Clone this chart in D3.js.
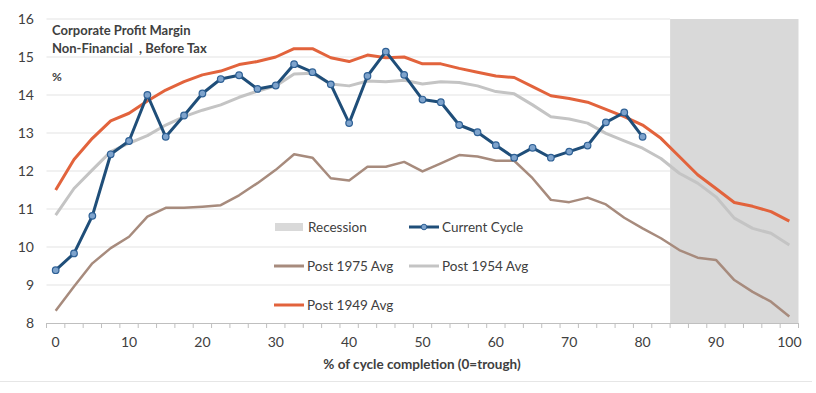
<!DOCTYPE html>
<html>
<head>
<meta charset="utf-8">
<script src="https://cdn.jsdelivr.net/npm/d3@7"></script>
<style>
  body { margin: 0; background: #fff; }
  text { font-family: Lato, "Open Sans", sans-serif; fill: #404040; white-space: pre; }
</style>
</head>
<body>
<div id="chart"></div>
<script>
// % of cycle completion (category axis, 2.5 steps)
var cycle = [0, 2.5, 5, 7.5, 10, 12.5, 15, 17.5, 20, 22.5, 25, 27.5, 30, 32.5, 35, 37.5, 40,
  42.5, 45, 47.5, 50, 52.5, 55, 57.5, 60, 62.5, 65, 67.5, 70, 72.5, 75, 77.5, 80, 82.5, 85,
  87.5, 90, 92.5, 95, 97.5, 100];

var xTickLabels = [0, 10, 20, 30, 40, 50, 60, 70, 80, 90, 100];
var yTicks = [8, 9, 10, 11, 12, 13, 14, 15, 16];

// categories shaded as recession
var recession = [85, 87.5, 90, 92.5, 95, 97.5, 100];

var post1949 = [11.5, 12.3, 12.86, 13.32, 13.52, 13.84, 14.13, 14.35, 14.53, 14.63, 14.8,
  14.88, 15.0, 15.22, 15.22, 14.98, 14.88, 15.05, 14.98, 15.0, 14.82, 14.82, 14.7, 14.6,
  14.5, 14.46, 14.22, 13.98, 13.91, 13.81, 13.62, 13.43, 13.21, 12.86, 12.38, 11.9, 11.54,
  11.17, 11.07, 10.93, 10.68];

var post1954 = [10.84, 11.54, 12.03, 12.51, 12.73, 12.93, 13.21, 13.43, 13.6, 13.74, 13.94,
  14.1, 14.24, 14.55, 14.57, 14.29, 14.24, 14.37, 14.35, 14.39, 14.29, 14.35, 14.33, 14.24,
  14.09, 14.03, 13.74, 13.43, 13.37, 13.26, 12.99, 12.79, 12.6, 12.33, 11.94, 11.68, 11.32,
  10.76, 10.49, 10.36, 10.05];

var post1975 = [8.32, 8.96, 9.57, 9.97, 10.27, 10.8, 11.03, 11.03, 11.06, 11.1, 11.36,
  11.68, 12.03, 12.44, 12.35, 11.81, 11.75, 12.11, 12.11, 12.24, 11.99, 12.2, 12.42, 12.38,
  12.27, 12.27, 11.81, 11.24, 11.18, 11.3, 11.12, 10.77, 10.49, 10.23, 9.92, 9.72, 9.66,
  9.13, 8.82, 8.56, 8.17];

var currentCycle = [9.39, 9.83, 10.82, 12.44, 12.79, 14.0, 12.9, 13.46, 14.04, 14.42, 14.52,
  14.16, 14.25, 14.81, 14.6, 14.28, 13.26, 14.5, 15.14, 14.53, 13.88, 13.81, 13.21, 13.02,
  12.68, 12.35, 12.61, 12.35, 12.51, 12.67, 13.28, 13.54, 12.9];

function main() {
    var width = 816, height = 393;

    var svg = d3.select("#chart")
    .append("svg")
    .attr("width", width)
    .attr("height", height);

    var x = d3.scaleBand()
    .domain(cycle)
    .range([46.5, 798.5])
    .padding(0);

    var y = d3.scaleLinear()
    .domain([8, 16])
    .range([323, 19]);

    var cx = function(d) { return x(d) + x.bandwidth() / 2; };

    // recession shading
    svg.append("rect")
    .attr("x", x(recession[0]))
    .attr("y", y(16))
    .attr("width", x(recession[recession.length - 1]) + x.bandwidth() - x(recession[0]))
    .attr("height", y(8) - y(16))
    .attr("fill", "#d9d9d9");

    // gridlines
    svg.selectAll(".grid")
    .data(yTicks.slice(1))
    .enter().append("line")
    .attr("class", "grid")
    .attr("x1", 46.5)
    .attr("x2", x(recession[0]))
    .attr("y1", d => y(d))
    .attr("y2", d => y(d))
    .attr("stroke", "#e3e3e3")
    .attr("stroke-width", 1);

    // y labels
    svg.selectAll(".ylab")
    .data(yTicks)
    .enter().append("text")
    .attr("class", "ylab")
    .attr("x", 34)
    .attr("y", d => y(d) + 5)
    .attr("text-anchor", "end")
    .style("font-size", "14px")
    .text(d => d);

    // x axis line + tick marks at band edges
    svg.append("line")
    .attr("x1", 46.5).attr("x2", 798.5)
    .attr("y1", y(8) + 0.5).attr("y2", y(8) + 0.5)
    .attr("stroke", "#bfbfbf");

    var edges = cycle.map(d => x(d)).concat([x(cycle[cycle.length - 1]) + x.bandwidth()]);
    svg.selectAll(".tick")
    .data(edges)
    .enter().append("line")
    .attr("x1", d => d).attr("x2", d => d)
    .attr("y1", y(8)).attr("y2", y(8) + 5)
    .attr("stroke", "#bfbfbf");

    svg.selectAll(".xlab")
    .data(xTickLabels)
    .enter().append("text")
    .attr("x", d => cx(d))
    .attr("y", 347)
    .attr("text-anchor", "middle")
    .style("font-size", "14px")
    .text(d => d);

    svg.append("text")
    .attr("x", 422)
    .attr("y", 369)
    .attr("text-anchor", "middle")
    .style("font-size", "13.5px")
    .style("font-weight", "bold")
    .text("% of cycle completion (0=trough)");

    // series lines
    var line = d3.line()
    .x((d, i) => cx(cycle[i]))
    .y(d => y(d));

    var series = [
        { name: "Post 1975 Avg", values: post1975, color: "#a78b7d", w: 2.5 },
        { name: "Post 1954 Avg", values: post1954, color: "#c4c4c4", w: 3 },
        { name: "Post 1949 Avg", values: post1949, color: "#e2633c", w: 3 }
    ];

    svg.selectAll(".series")
    .data(series)
    .enter().append("path")
    .attr("class", "series")
    .attr("d", d => line(d.values))
    .attr("fill", "none")
    .attr("stroke", d => d.color)
    .attr("stroke-width", d => d.w)
    .attr("stroke-linejoin", "round");

    svg.append("path")
    .attr("d", line(currentCycle))
    .attr("fill", "none")
    .attr("stroke", "#1f4e79")
    .attr("stroke-width", 3)
    .attr("stroke-linejoin", "round");

    svg.selectAll(".dot")
    .data(currentCycle)
    .enter().append("circle")
    .attr("class", "dot")
    .attr("cx", (d, i) => cx(cycle[i]))
    .attr("cy", d => y(d))
    .attr("r", 3.3)
    .attr("fill", "#7ea3cc")
    .attr("stroke", "#2e6095")
    .attr("stroke-width", 1.2);

    // title
    svg.append("text")
    .attr("x", 52).attr("y", 35)
    .style("font-size", "13px").style("font-weight", "bold")
    .text("Corporate Profit Margin");
    svg.append("text")
    .attr("x", 52).attr("y", 53)
    .style("font-size", "13px").style("font-weight", "bold")
    .text("Non-Financial  , Before Tax");
    svg.append("text")
    .attr("x", 52).attr("y", 81)
    .style("font-size", "12px").style("font-weight", "bold")
    .text("%");

    // legend
    var legend = [
        { name: "Recession", type: "rect", color: "#d9d9d9", lx: 275, ly: 227 },
        { name: "Current Cycle", type: "dot", color: "#1f4e79", lx: 409, ly: 227 },
        { name: "Post 1975 Avg", type: "line", color: "#a78b7d", lx: 274, ly: 266 },
        { name: "Post 1954 Avg", type: "line", color: "#c4c4c4", lx: 409, ly: 266 },
        { name: "Post 1949 Avg", type: "line", color: "#e2633c", lx: 274, ly: 305 }
    ];

    var lg = svg.selectAll(".legend")
    .data(legend)
    .enter().append("g")
    .attr("class", "legend")
    .attr("transform", d => "translate(" + d.lx + "," + d.ly + ")");

    lg.filter(d => d.type == "rect").append("rect")
    .attr("x", 0).attr("y", -4).attr("width", 28).attr("height", 8)
    .attr("fill", d => d.color);

    lg.filter(d => d.type != "rect").append("line")
    .attr("x1", 0).attr("x2", 30).attr("y1", 0).attr("y2", 0)
    .attr("stroke", d => d.color).attr("stroke-width", 3);

    lg.filter(d => d.type == "dot").append("circle")
    .attr("cx", 15).attr("cy", 0).attr("r", 2.8)
    .attr("fill", "#7ea3cc").attr("stroke", "#2e6095").attr("stroke-width", 1);

    lg.append("text")
    .attr("x", 33).attr("y", 5)
    .style("font-size", "13.5px")
    .text(d => d.name);

    // bottom border
    svg.append("line")
    .attr("x1", 0).attr("x2", 812)
    .attr("y1", 381.5).attr("y2", 381.5)
    .attr("stroke", "#e6e6e6");
}

main();
</script>
</body>
</html>
